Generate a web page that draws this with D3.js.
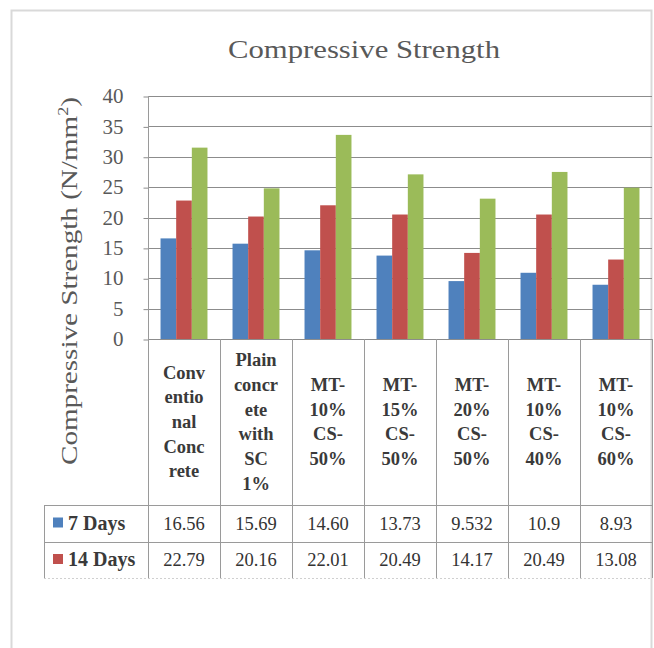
<!DOCTYPE html>
<html>
<head>
<meta charset="utf-8">
<script src="https://cdn.jsdelivr.net/npm/d3@7/dist/d3.min.js"></script>
<style>
  html, body { margin: 0; padding: 0; background: #fff; }
  svg { display: block; }
</style>
</head>
<body>
<script>
// Mix designs (x categories) and how each name wraps inside its table cell
const categories = [
  "Conventional Concrete",
  "Plain concrete with SC 1%",
  "MT-10% CS-50%",
  "MT-15% CS-50%",
  "MT-20% CS-50%",
  "MT-10% CS-40%",
  "MT-10% CS-60%"
];
const categoryLines = [
  ["Conv", "entio", "nal", "Conc", "rete"],
  ["Plain", "concr", "ete", "with", "SC", "1%"],
  ["MT-", "10%", "CS-", "50%"],
  ["MT-", "15%", "CS-", "50%"],
  ["MT-", "20%", "CS-", "50%"],
  ["MT-", "10%", "CS-", "40%"],
  ["MT-", "10%", "CS-", "60%"]
];

// Strength values (N/mm²); tabulated rows keep their printed text
const days7Text  = ["16.56", "15.69", "14.60", "13.73", "9.532", "10.9", "8.93"];
const days14Text = ["22.79", "20.16", "22.01", "20.49", "14.17", "20.49", "13.08"];
const days7  = days7Text.map(Number);
const days14 = days14Text.map(Number);
const days28 = [31.5, 24.8, 33.6, 27.1, 23.1, 27.5, 24.9];

const seriesNames = ["7 Days", "14 Days", "28 Days"];
const seriesColors = ["#4F81BD", "#C0504D", "#9BBB59"];
const yTicks = [0, 5, 10, 15, 20, 25, 30, 35, 40];

const W = 654, H = 648;
const serif = "'Liberation Serif', 'Times New Roman', serif";

const svg = d3.select("body").append("svg")
  .attr("width", W).attr("height", H);

// chart frame
svg.append("rect")
  .attr("x", 11.5).attr("y", 10.5)
  .attr("width", 640).attr("height", 660)
  .attr("fill", "#fff").attr("stroke", "#d9d9d9").attr("stroke-width", 2);

const plot = { left: 148, right: 652, top: 96, bottom: 339 };
const table = { headBottom: 505, row1Bottom: 542, row2Bottom: 578, legendLeft: 44 };

const x0 = d3.scaleBand().domain(categories).range([plot.left, plot.right]).padding(0);
const bw = x0.bandwidth();
const x1 = d3.scaleBand().domain(seriesNames).range([bw * 0.174, bw * 0.826]).padding(0);
const y = d3.scaleLinear().domain([0, 40]).range([plot.bottom, plot.top]);

// title
svg.append("text")
  .attr("x", 364).attr("y", 58)
  .attr("text-anchor", "middle")
  .attr("font-family", serif).attr("font-size", 25)
  .attr("textLength", 272).attr("lengthAdjust", "spacingAndGlyphs")
  .attr("fill", "#595959")
  .text("Compressive Strength");

// gridlines
svg.append("g").selectAll("line").data(yTicks).join("line")
  .attr("x1", plot.left).attr("x2", plot.right)
  .attr("y1", d => Math.round(y(d)) + 0.5).attr("y2", d => Math.round(y(d)) + 0.5)
  .attr("stroke", "#8c8c8c").attr("stroke-width", 1);

// y axis
const yAxis = svg.append("g")
  .attr("transform", `translate(${plot.left + 0.5},0)`)
  .call(d3.axisLeft(y).tickValues(yTicks).tickSize(5).tickPadding(20));
yAxis.select(".domain").remove();
yAxis.selectAll(".tick line").attr("stroke", "#8c8c8c")
  .attr("transform", "translate(0,0.5)");
yAxis.selectAll(".tick text")
  .attr("font-family", serif).attr("font-size", 21).attr("fill", "#595959");

// y axis title
const yTitle = svg.append("text")
  .attr("transform", "translate(77,281) rotate(-90)")
  .attr("text-anchor", "middle")
  .attr("font-family", serif).attr("font-size", 24)
  .attr("textLength", 368).attr("lengthAdjust", "spacingAndGlyphs")
  .attr("fill", "#595959");
yTitle.append("tspan").text("Compressive Strength (N/mm");
yTitle.append("tspan").attr("font-size", 15).attr("dy", -9).text("2");
yTitle.append("tspan").attr("dy", 9).text(")");

// bars
const rows = categories.map((c, i) => ({
  cat: c,
  vals: [days7[i], days14[i], days28[i]]
}));
const groups = svg.append("g").selectAll("g").data(rows).join("g")
  .attr("transform", d => `translate(${x0(d.cat)},0)`);
groups.selectAll("rect")
  .data(d => d.vals.map((v, k) => ({ name: seriesNames[k], v, k })))
  .join("rect")
  .attr("x", d => x1(d.name))
  .attr("y", d => y(d.v))
  .attr("width", x1.bandwidth())
  .attr("height", d => y(0) - y(d.v))
  .attr("fill", d => seriesColors[d.k]);

// data table
const tg = svg.append("g").attr("stroke", "#9a9a9a").attr("stroke-width", 1);
// vertical axis line through the table header
tg.append("line")
  .attr("x1", plot.left + 0.5).attr("x2", plot.left + 0.5)
  .attr("y1", plot.top).attr("y2", table.row2Bottom);
// category column separators
categories.forEach(c => {
  const xr = Math.round(x0(c) + bw) + 0.5;
  tg.append("line").attr("x1", xr).attr("x2", xr)
    .attr("y1", plot.bottom).attr("y2", table.row2Bottom);
});
// legend column left edge
tg.append("line")
  .attr("x1", table.legendLeft + 0.5).attr("x2", table.legendLeft + 0.5)
  .attr("y1", table.headBottom).attr("y2", table.row2Bottom);
// horizontal rules
[table.headBottom, table.row1Bottom].forEach(yy => {
  tg.append("line").attr("x1", table.legendLeft).attr("x2", plot.right)
    .attr("y1", yy + 0.5).attr("y2", yy + 0.5);
});
tg.append("line").attr("x1", table.legendLeft).attr("x2", plot.right)
  .attr("y1", table.row2Bottom + 0.5).attr("y2", table.row2Bottom + 0.5)
  .attr("stroke", "#d0d0d0").attr("stroke-dasharray", "2,2");

// category labels, wrapped and centred in each header cell
const lineH = 24.7;
const headMid = (plot.bottom + table.headBottom) / 2;
categories.forEach((c, i) => {
  const lines = categoryLines[i];
  const cx = x0(c) + bw / 2;
  const t = svg.append("text")
    .attr("text-anchor", "middle")
    .attr("font-family", serif).attr("font-size", 18.5).attr("font-weight", "bold")
    .attr("fill", "#3a3a3a");
  lines.forEach((ln, j) => {
    t.append("tspan")
      .attr("x", cx)
      .attr("y", headMid + (j - (lines.length - 1) / 2) * lineH + 6)
      .text(ln);
  });
});

// table rows: legend key + values
const tableRows = [
  { name: seriesNames[0], color: seriesColors[0], text: days7Text, top: table.headBottom, bottom: table.row1Bottom },
  { name: seriesNames[1], color: seriesColors[1], text: days14Text, top: table.row1Bottom, bottom: table.row2Bottom }
];
tableRows.forEach(r => {
  const mid = (r.top + r.bottom) / 2;
  svg.append("rect")
    .attr("x", 53).attr("y", mid - 6).attr("width", 10).attr("height", 10)
    .attr("fill", r.color);
  svg.append("text")
    .attr("x", 68).attr("y", mid + 6)
    .attr("font-family", serif).attr("font-size", 20).attr("font-weight", "bold")
    .attr("fill", "#3a3a3a")
    .text(r.name);
  categories.forEach((c, i) => {
    svg.append("text")
      .attr("x", x0(c) + bw / 2).attr("y", mid + 6)
      .attr("text-anchor", "middle")
      .attr("font-family", serif).attr("font-size", 18.5)
      .attr("fill", "#333")
      .text(r.text[i]);
  });
});
</script>
</body>
</html>
